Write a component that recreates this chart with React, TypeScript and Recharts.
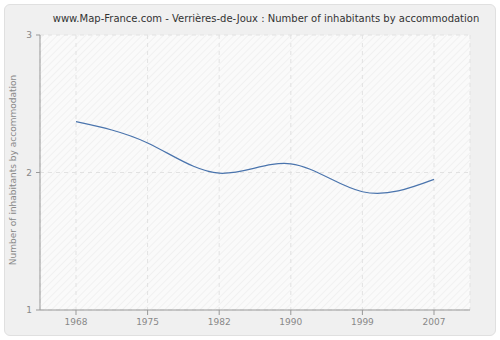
import React from 'react';
import { LineChart, Line, XAxis, YAxis, CartesianGrid } from 'recharts';

const years = ['1968', '1975', '1982', '1990', '1999', '2007'];
const inhabitants = [2.37, 2.215, 1.995, 2.063, 1.86, 1.95];
const yTicks = [1, 2, 3];

const data = years.map((y, i) => ({ year: y, value: inhabitants[i] }));

const FONT = 'DejaVu Sans, Verdana, sans-serif';

export default function App() {
  return (
    <div style={{ position: 'absolute', left: 0, top: 0, width: 500, height: 340, background: '#ffffff' }}>
      <div
        style={{
          position: 'absolute',
          left: 4,
          top: 4,
          width: 490,
          height: 330,
          background: '#f0f0f0',
          border: '1px solid #e0e0e0',
          borderRadius: 6,
        }}
      />
      <div style={{ position: 'absolute', left: 0, top: 0 }}>
        <LineChart width={500} height={340} data={data} margin={{ top: 35, right: 30, bottom: 0, left: 0 }}>
          <defs>
            <pattern id="hatch" width="5" height="5" patternUnits="userSpaceOnUse" patternTransform="rotate(45)">
              <rect width="5" height="5" fill="#fafafa" />
              <line x1="0" y1="0" x2="0" y2="5" stroke="#efefef" strokeWidth="1.5" />
            </pattern>
          </defs>
          <CartesianGrid stroke="#e2e2e2" strokeDasharray="4 4" fill="url(#hatch)" />
          <XAxis
            dataKey="year"
            height={30}
            padding={{ left: 36, right: 36 }}
            tick={{ fill: '#888888', fontSize: 9, fontFamily: FONT }}
            tickLine={{ stroke: '#999999' }}
            axisLine={{ stroke: '#999999' }}
            tickSize={5}
            tickMargin={4}
          />
          <YAxis
            width={40}
            domain={[1, 3]}
            ticks={yTicks}
            tick={{ fill: '#888888', fontSize: 9, fontFamily: FONT }}
            tickLine={{ stroke: '#999999' }}
            axisLine={{ stroke: '#999999' }}
            tickSize={4}
            tickMargin={4}
            label={{
              content: () => (
                <text
                  x={13}
                  y={170}
                  transform="rotate(-90 13 170)"
                  textAnchor="middle"
                  dominantBaseline="central"
                  fill="#888888"
                  fontSize={9}
                  fontFamily={FONT}
                >
                  Number of inhabitants by accommodation
                </text>
              ),
            }}
          />
          <Line
            type="natural"
            dataKey="value"
            stroke="#4a74ad"
            strokeWidth={1.2}
            dot={false}
            activeDot={false}
            isAnimationActive={false}
          />
          <text x={266} y={22} textAnchor="middle" fill="#333333" fontSize={10} fontFamily={FONT}>
            www.Map-France.com - Verrières-de-Joux : Number of inhabitants by accommodation
          </text>
        </LineChart>
      </div>
    </div>
  );
}
